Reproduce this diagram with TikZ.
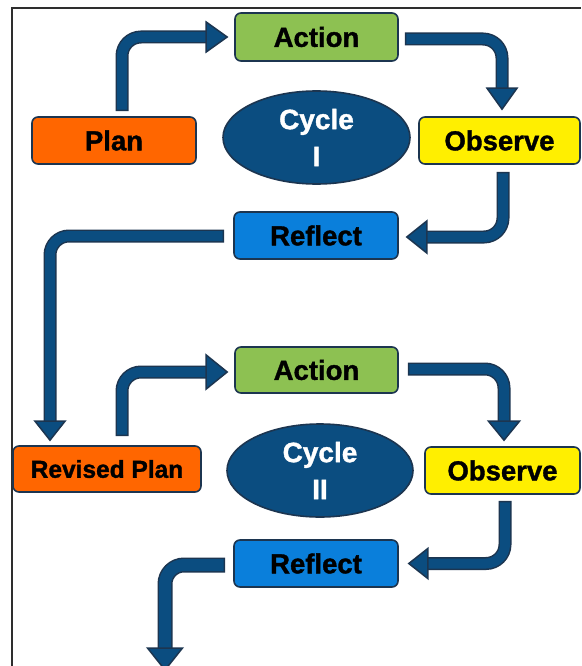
\documentclass[tikz,border=0pt]{standalone}
\usepackage{fontspec}
\setmainfont{Liberation Sans}[BoldFeatures={FakeBold=1.3}]
\usetikzlibrary{calc,shapes.geometric}
\definecolor{cOrange}{HTML}{FF6600}
\definecolor{cGreen}{HTML}{8DC152}
\definecolor{cYellow}{HTML}{FFEF00}
\definecolor{cBlue}{HTML}{0A7FDB}
\definecolor{cNavy}{HTML}{0B4D80}
\definecolor{cLine}{HTML}{1C3550}
\definecolor{cFrame}{HTML}{2E2E2E}
\begin{document}
\begin{tikzpicture}[x=1pt,y=-1pt,
  box/.style={draw=cLine, line width=1.6pt, rounded corners=6pt, inner sep=0pt,
    font=\fontsize{27.5}{30}\selectfont\bfseries, text=black},
  cyc/.style={ellipse, draw=cLine, line width=1.6pt, fill=cNavy, inner sep=0pt,
    minimum width=187pt, minimum height=93pt, align=center, text=white,
    font=\fontsize{28}{37}\selectfont\bfseries},
  shaftO/.style={line width=13pt, draw=cLine, rounded corners=19pt},
  shaftI/.style={line width=10pt, draw=cNavy, rounded corners=19pt, shorten <=1.5pt},
  headsty/.style={fill=cNavy, draw=cLine, line width=1.5pt, line join=miter}
]
\useasboundingbox (0,0) rectangle (581,666);
\fill[white] (0,0) rectangle (581,666);
\draw[cFrame, line width=2.2pt] (12,666) -- (12,8) -- (581,8);

% Cycle I
\node[box, fill=cOrange, minimum width=164pt, minimum height=47pt] (plan) at (114,140.5) {Plan};
\node[box, fill=cGreen, minimum width=163pt, minimum height=48pt] (action1) at (316.5,37) {Action};
\node[cyc] (cycle1) at (316.5,137.5) {Cycle\\I};
\node[box, fill=cYellow, minimum width=161pt, minimum height=47pt] (observe1) at (499.5,140.5) {Observe};
\node[box, fill=cBlue, minimum width=164pt, minimum height=47pt] (reflect1) at (316,235.5) {Reflect};

% Cycle II
\node[box, fill=cOrange, minimum width=188pt, minimum height=46pt,
  font=\fontsize{24.5}{28}\selectfont\bfseries] (revplan) at (107,469) {Revised Plan};
\node[box, fill=cGreen, minimum width=163pt, minimum height=46pt] (action2) at (316.5,370) {Action};
\node[cyc, minimum width=186pt] (cycle2) at (320,470.5) {Cycle\\II};
\node[box, fill=cYellow, minimum width=155pt, minimum height=47pt] (observe2) at (502.5,470.5) {Observe};
\node[box, fill=cBlue, minimum width=164pt, minimum height=47pt] (reflect2) at (316,563.5) {Reflect};
\coordinate (out) at (165,670);

% Arrow 1: plan -> action1
\draw[shaftO] ($(plan.north)+(8,-5)$) |- ($(action1.west)+(-27,0)$);
\draw[shaftI] ($(plan.north)+(8,-5)$) |- ($(action1.west)+(-27,0)$);
\draw[headsty] ($(action1.west)+(-7,0)$) -- ++(-21,-15) -- ++(0,30) -- cycle;

% Arrow 2: action1 -> observe1
\draw[shaftO] ($(action1.east)+(6,2)$) -| ($(observe1.north)+(2.5,-28)$);
\draw[shaftI] ($(action1.east)+(6,2)$) -| ($(observe1.north)+(2.5,-28)$);
\draw[headsty] ($(observe1.north)+(2.5,-7)$) -- ++(-15,-21) -- ++(30,0) -- cycle;

% Arrow 3: observe1 -> reflect1
\draw[shaftO] ($(observe1.south)+(3.5,7)$) |- ($(reflect1.east)+(28,1.5)$);
\draw[shaftI] ($(observe1.south)+(3.5,7)$) |- ($(reflect1.east)+(28,1.5)$);
\draw[headsty] ($(reflect1.east)+(8,1.5)$) -- ++(20,-16) -- ++(0,32) -- cycle;

% Arrow 4: reflect1 -> revised plan
\draw[shaftO] ($(reflect1.west)+(-9,0.5)$) -| ($(revplan.north)+(-57,-24)$);
\draw[shaftI] ($(reflect1.west)+(-9,0.5)$) -| ($(revplan.north)+(-57,-24)$);
\draw[headsty] ($(revplan.north)+(-57,-5)$) -- ++(-15,-19) -- ++(30,0) -- cycle;

% Arrow 5: revised plan -> action2
\draw[shaftO] ($(revplan.north)+(15,-9)$) |- ($(action2.west)+(-27,2)$);
\draw[shaftI] ($(revplan.north)+(15,-9)$) |- ($(action2.west)+(-27,2)$);
\draw[headsty] ($(action2.west)+(-7,2)$) -- ++(-21,-17) -- ++(0,34) -- cycle;

% Arrow 6: action2 -> observe2
\draw[shaftO] ($(action2.east)+(9,-1)$) -| ($(observe2.north)+(1.5,-25)$);
\draw[shaftI] ($(action2.east)+(9,-1)$) -| ($(observe2.north)+(1.5,-25)$);
\draw[headsty] ($(observe2.north)+(1.5,-6)$) -- ++(-15.5,-19) -- ++(31,0) -- cycle;

% Arrow 7: observe2 -> reflect2
\draw[shaftO] ($(observe2.south)+(2.5,6)$) |- ($(reflect2.east)+(29,0)$);
\draw[shaftI] ($(observe2.south)+(2.5,6)$) |- ($(reflect2.east)+(29,0)$);
\draw[headsty] ($(reflect2.east)+(10,0)$) -- ++(19,-15) -- ++(0,30) -- cycle;

% Arrow 8: reflect2 -> out
\draw[shaftO, line width=15pt] ($(reflect2.west)+(-8,1.5)$) -| ($(out)+(0,-22)$);
\draw[shaftI, line width=12pt] ($(reflect2.west)+(-8,1.5)$) -| ($(out)+(0,-22)$);
\draw[headsty] (out) -- ++(-17.5,-22) -- ++(35,0) -- cycle;
\end{tikzpicture}
\end{document}
